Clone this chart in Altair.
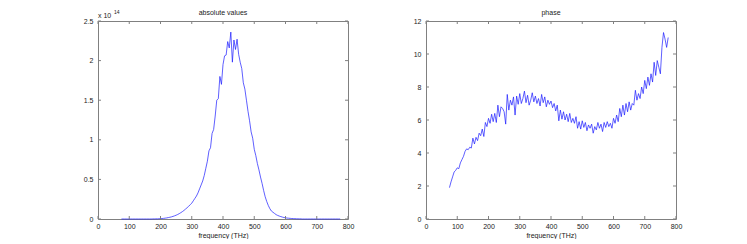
import altair as alt
import pandas as pd

# sampling grid (THz)
FREQ = list(range(75, 780, 5))

# spectrum magnitude, in units of 1e14
ABS_VALUES = [
    0, 0, 0, 0, 0, 0, 0, 0, 0, 0, 0, 0, 0, 0, 0, 0, 0, 0, 0, 0,
    0.001, 0.001, 0.002, 0.002, 0.003,
    0.004, 0.006, 0.008, 0.011, 0.014, 0.018, 0.022, 0.027, 0.033, 0.040,
    0.048, 0.057, 0.068, 0.080, 0.093, 0.108, 0.125, 0.142, 0.160, 0.180,
    0.20, 0.23, 0.26, 0.29, 0.33, 0.38, 0.43, 0.48, 0.55, 0.64,
    0.73, 0.86, 0.90, 1.08, 1.13, 1.30, 1.50, 1.52, 1.80, 1.70,
    1.95, 2.06, 2.07, 2.24, 2.16, 2.36, 1.98, 2.26, 2.14, 2.27,
    2.08, 1.98, 1.90, 1.72, 1.64, 1.50, 1.36, 1.24, 1.10, 1.02,
    0.88, 0.80, 0.70, 0.62, 0.53, 0.45, 0.36, 0.28, 0.22, 0.17,
    0.13, 0.10, 0.085, 0.07, 0.055, 0.045, 0.037, 0.030, 0.024, 0.019,
    0.015, 0.012, 0.010, 0.008, 0.006, 0.005, 0.004, 0.003, 0.002, 0.002,
    0.001, 0, 0, 0, 0, 0, 0, 0, 0, 0,
    0, 0, 0, 0, 0, 0, 0, 0, 0, 0, 0, 0, 0, 0, 0, 0,
]

PHASE = [
    1.90, 2.25, 2.55, 2.85, 2.95, 3.10, 3.05, 3.40, 3.60, 3.80,
    4.10, 4.25, 4.20, 4.35, 4.30, 4.90, 4.55, 4.95, 4.75, 5.20,
    5.05, 5.45, 5.00, 5.85, 5.60, 6.10, 5.80, 6.35, 5.90, 6.40,
    5.85, 6.90, 6.20, 6.80, 6.70, 6.50, 5.75, 7.55, 6.60, 7.20,
    6.90, 7.40, 6.30, 7.45, 6.95, 7.60, 7.00, 7.30, 7.75, 7.05,
    7.50, 6.90, 7.20, 7.65, 7.10, 7.45, 7.00, 7.30, 6.85, 7.55,
    7.05, 7.40, 6.80, 7.20, 6.95, 7.15, 6.75, 7.00, 6.55, 6.90,
    5.95, 6.60, 6.05, 6.50, 6.00, 6.35, 5.90, 6.40, 5.85, 6.10,
    5.80, 6.20, 5.50, 5.90, 5.45, 5.95, 5.55, 5.85, 5.35, 5.70,
    5.50, 5.75, 5.20, 5.60, 5.40, 5.85, 5.50, 5.75, 5.30, 5.85,
    5.55, 5.90, 5.60, 5.80, 5.50, 6.10, 5.80, 6.30, 5.90, 6.70,
    6.20, 6.90, 6.30, 7.00, 6.50, 7.10, 6.60, 7.00, 6.90, 7.80,
    7.20, 7.60, 7.30, 8.00, 7.60, 8.40, 7.90, 8.60, 8.10, 8.80,
    8.30, 9.50, 8.70, 9.60, 9.20, 8.80, 10.40, 11.30, 10.90, 10.40, 11.00,
]

X_TICKS = [0, 100, 200, 300, 400, 500, 600, 700, 800]
ABS_TICKS = [0, 0.5, 1, 1.5, 2, 2.5]
PHASE_TICKS = [0, 2, 4, 6, 8, 10, 12]
TITLES = ["absolute values", "phase"]
X_TITLE = "frequency (THz)"

FONT = "Liberation Sans"
GRAY = "#808080"
TEXT = "#222222"
BLUE = "#1a1aff"
W, H = 250, 198


def panel(values, yticks, ymax, title, exponent=False):
    df = pd.DataFrame({"f": FREQ, "v": values})
    xs = alt.Scale(domain=[0, 800], nice=False, zero=False)
    ys = alt.Scale(domain=[0, ymax], nice=False)
    xaxis = alt.Axis(values=X_TICKS, title=X_TITLE, labelPadding=3,
                     titlePadding=2, labelFlush=False)
    yaxis = alt.Axis(values=yticks, title=None, format="~g",
                     labelPadding=5, minExtent=20, maxExtent=20)
    line = alt.Chart(df).mark_line(color=BLUE, strokeWidth=0.7).encode(
        x=alt.X("f:Q", scale=xs, axis=xaxis),
        y=alt.Y("v:Q", scale=ys, axis=yaxis),
    )
    xt = pd.DataFrame({"t": X_TICKS})
    yt = pd.DataFrame({"t": yticks})
    tick_kw = dict(color=GRAY, size=3, thickness=1, opacity=1)
    bottom = alt.Chart(xt).mark_tick(yOffset=-1.5, **tick_kw).encode(
        x=alt.X("t:Q", scale=xs, axis=xaxis), y=alt.value(H))
    top = alt.Chart(xt).mark_tick(yOffset=1.5, **tick_kw).encode(
        x=alt.X("t:Q", scale=xs, axis=xaxis), y=alt.value(0))
    left = alt.Chart(yt).mark_tick(xOffset=1.5, **tick_kw).encode(
        y=alt.Y("t:Q", scale=ys, axis=yaxis), x=alt.value(0))
    right = alt.Chart(yt).mark_tick(xOffset=-1.5, **tick_kw).encode(
        y=alt.Y("t:Q", scale=ys, axis=yaxis), x=alt.value(W))
    ttl = alt.Chart(pd.DataFrame({"s": [title]})).mark_text(
        font=FONT, fontSize=7, color=TEXT, baseline="middle", align="center"
    ).encode(text="s:N", x=alt.value(W / 2), y=alt.value(-8))
    layers = [line, bottom, top, left, right, ttl]
    if exponent:
        base = alt.Chart(pd.DataFrame({"s": ["x 10"]})).mark_text(
            font=FONT, fontSize=7, color=TEXT, baseline="middle", align="left"
        ).encode(text="s:N", x=alt.value(0), y=alt.value(-5.5))
        sup = alt.Chart(pd.DataFrame({"s": ["14"]})).mark_text(
            font=FONT, fontSize=5, color=TEXT, baseline="middle", align="left"
        ).encode(text="s:N", x=alt.value(16), y=alt.value(-9))
        layers += [base, sup]
    return alt.layer(*layers).properties(width=W, height=H)


chart = alt.hconcat(
    panel(ABS_VALUES, ABS_TICKS, 2.5, TITLES[0], exponent=True),
    panel(PHASE, PHASE_TICKS, 12, TITLES[1]),
    spacing=50,
).properties(
    padding={"left": 69, "top": 0, "right": 0, "bottom": 0},
    background="white",
).configure_view(
    stroke=GRAY, strokeWidth=1
).configure_axis(
    labelFont=FONT, labelFontSize=7, labelColor=TEXT,
    titleFont=FONT, titleFontSize=7, titleColor=TEXT, titleFontWeight="normal",
    domain=False, ticks=False, grid=False,
)

chart.save("out.html", embed_options={"renderer": "svg", "actions": False})
